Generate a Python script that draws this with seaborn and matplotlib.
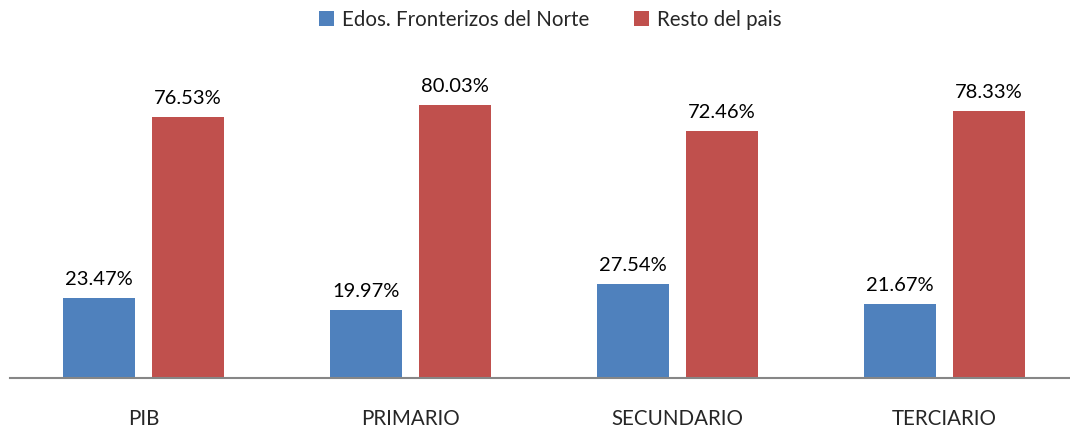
import pandas as pd
import matplotlib.pyplot as plt
import seaborn as sns

sectores = ['PIB', 'PRIMARIO', 'SECUNDARIO', 'TERCIARIO']
series = ['Edos. Fronterizos del Norte', 'Resto del pais']
norte = [23.47, 19.97, 27.54, 21.67]
resto = [76.53, 80.03, 72.46, 78.33]
colores = ['#4F81BD', '#C0504D']


def build_frame():
    """Long format table for seaborn."""
    rows = []
    for serie, valores in zip(series, [norte, resto]):
        for sector, v in zip(sectores, valores):
            rows.append({'sector': sector, 'serie': serie, 'valor': v})
    return pd.DataFrame(rows)


if __name__ == "__main__":
    data = build_frame()

    sns.set_style('white')
    plt.rcParams['font.family'] = ['Lato', 'DejaVu Sans']

    fig = plt.figure(figsize=(10.7, 4.3), dpi=100)
    ax = fig.add_axes([10 / 1070, 52 / 430, 1068 / 1070, 339 / 430])

    sns.barplot(data=data, x='sector', y='valor', hue='serie', order=sectores,
                hue_order=series, palette=colores, width=0.67, gap=0.195,
                saturation=1, linewidth=0, ax=ax, legend=True)

    for cont in ax.containers:
        ax.bar_label(cont, fmt='%.2f%%', padding=7, fontsize=14.5, color='#000000')

    ax.set_ylim(0, 99.3)
    ax.set_xlim(-0.5, 3.5)
    ax.set_xlabel('')
    ax.set_ylabel('')
    ax.set_yticks([])
    ax.tick_params(axis='x', length=0, pad=22, labelsize=14.8)
    for s in ['top', 'left', 'right']:
        ax.spines[s].set_visible(False)
    ax.spines['bottom'].set_color('#868686')
    ax.spines['bottom'].set_linewidth(1.5)

    handles, labels = ax.get_legend_handles_labels()
    ax.legend_.remove()
    fig.legend(handles, labels, loc='center', bbox_to_anchor=(550 / 1070, 1 - 20 / 430),
               ncol=2, frameon=False, fontsize=14.8, handlelength=0.75, handleheight=0.75,
               handletextpad=0.35, columnspacing=2.2)

    plt.savefig('out.png', dpi=100)
